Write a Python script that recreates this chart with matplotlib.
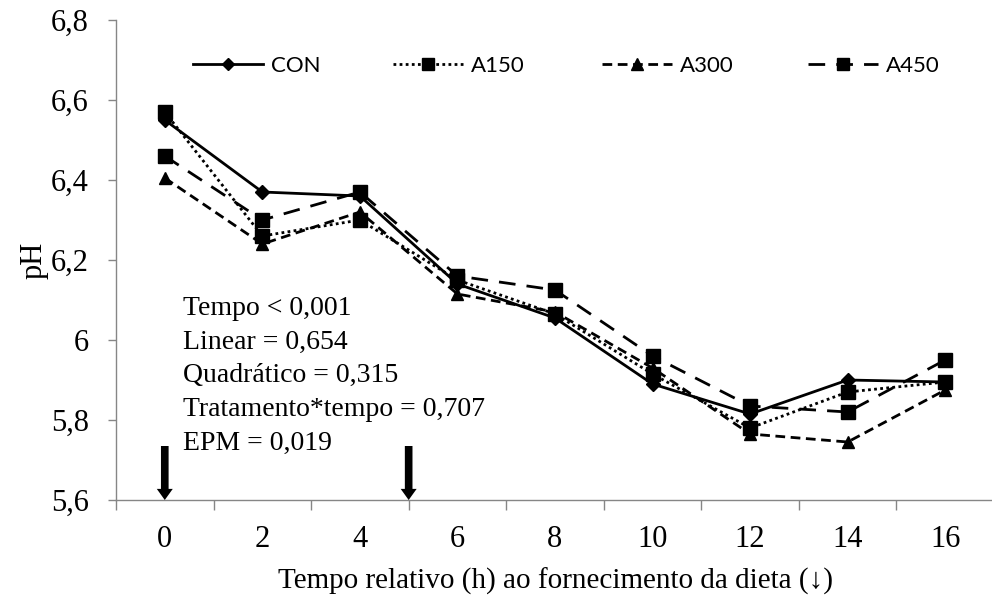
import matplotlib
matplotlib.use("Agg")
import matplotlib.pyplot as plt
from matplotlib.lines import Line2D

hours = ["0", "2", "4", "6", "8", "10", "12", "14", "16"]
con = [6.55, 6.37, 6.36, 6.14, 6.055, 5.89, 5.815, 5.90, 5.895]
a150 = [6.57, 6.26, 6.30, 6.15, 6.065, 5.915, 5.78, 5.87, 5.895]
a300 = [6.405, 6.24, 6.32, 6.115, 6.07, 5.93, 5.765, 5.745, 5.875]
a450 = [6.46, 6.30, 6.37, 6.16, 6.125, 5.96, 5.835, 5.82, 5.95]
series_names = ["CON", "A150", "A300", "A450"]
y_ticks = [5.6, 5.8, 6.0, 6.2, 6.4, 6.6, 6.8]
y_tick_labels = ["5,6", "5,8", "6", "6,2", "6,4", "6,6", "6,8"]
feeding_idx = [0, 2.5]  # 0 h and 5 h on the category axis
stats_text = ["Tempo < 0,001", "Linear = 0,654", "Quadrático = 0,315",
              "Tratamento*tempo = 0,707", "EPM = 0,019"]

W, H = 992, 601
serif = ["Liberation Serif", "DejaVu Serif"]
fig = plt.figure(figsize=(W / 100, H / 100), dpi=100)
ax = fig.add_axes([116 / W, 1 - 500 / H, 878 / W, 480 / H])
x = list(range(len(hours)))

styles = [
    dict(ls="-", marker="D", ms=7),
    dict(ls=(0, (1, 1.2)), marker="s", ms=10),
    dict(ls=(0, (3.5, 2)), marker="^", ms=9),
    dict(ls=(0, (6, 4)), marker="s", ms=10),
]
zorders = [4, 3, 3, 3]
for vals, st, z in zip([con, a150, a300, a450], styles, zorders):
    ax.plot(x, vals, color="black", lw=2, zorder=z, **st)

ax.set_xlim(-0.5, len(hours) - 0.5)
ax.set_ylim(5.6, 6.8)
ax.set_yticks(y_ticks)
ax.set_yticklabels(y_tick_labels, family=serif, fontsize=22)
ax.set_xticks(x)
ax.set_xticklabels(hours, family=serif, fontsize=22)
ax.set_xticks([i - 0.5 for i in range(len(hours) + 1)], minor=True)
ax.tick_params(axis="x", which="major", length=0, pad=18)
ax.tick_params(axis="x", which="minor", length=7, color="#868686", width=1)
ax.tick_params(axis="y", length=5.5, color="#868686", width=1, pad=14)
for s in ["top", "right"]:
    ax.spines[s].set_visible(False)
for s in ["left", "bottom"]:
    ax.spines[s].set_color("#868686")
    ax.spines[s].set_linewidth(1)

ax.set_ylabel("pH", family=serif, fontsize=22, labelpad=2)
ax.set_xlabel("Tempo relativo (h) ao fornecimento da dieta (↓)", family=serif,
              fontsize=21, labelpad=10)

for fx in feeding_idx:
    ax.annotate("", xy=(fx, 5.6), xytext=(fx, 5.735),
                arrowprops=dict(arrowstyle="simple,head_length=0.8,head_width=1.15,tail_width=0.55",
                                color="black", lw=0, shrinkA=0, shrinkB=0), zorder=5)

# statistics block
baselines = [315, 348.5, 382, 416, 450]
for txt, b in zip(stats_text, baselines):
    fig.text(183 / W, 1 - b / H, txt, family=serif, fontsize=20, va="baseline", ha="left")

# legend (Excel-style, evenly spaced entries)
leg_x0 = [193, 393, 602, 808]
leg_y = 64
for name, st, x0 in zip(series_names, styles, leg_x0):
    fig.add_artist(Line2D([x0 / W, (x0 + 70) / W], [1 - leg_y / H] * 2, transform=fig.transFigure,
                          color="black", lw=2, ls=st["ls"]))
    fig.add_artist(Line2D([(x0 + 35) / W], [1 - leg_y / H], transform=fig.transFigure,
                          color="black", marker=st["marker"], ms=st["ms"] * 0.9, ls="none"))
    fig.text((x0 + 78) / W, 1 - leg_y / H, name, family="Lato", fontsize=16,
             va="center_baseline", ha="left")

fig.savefig("out.png", dpi=100)
